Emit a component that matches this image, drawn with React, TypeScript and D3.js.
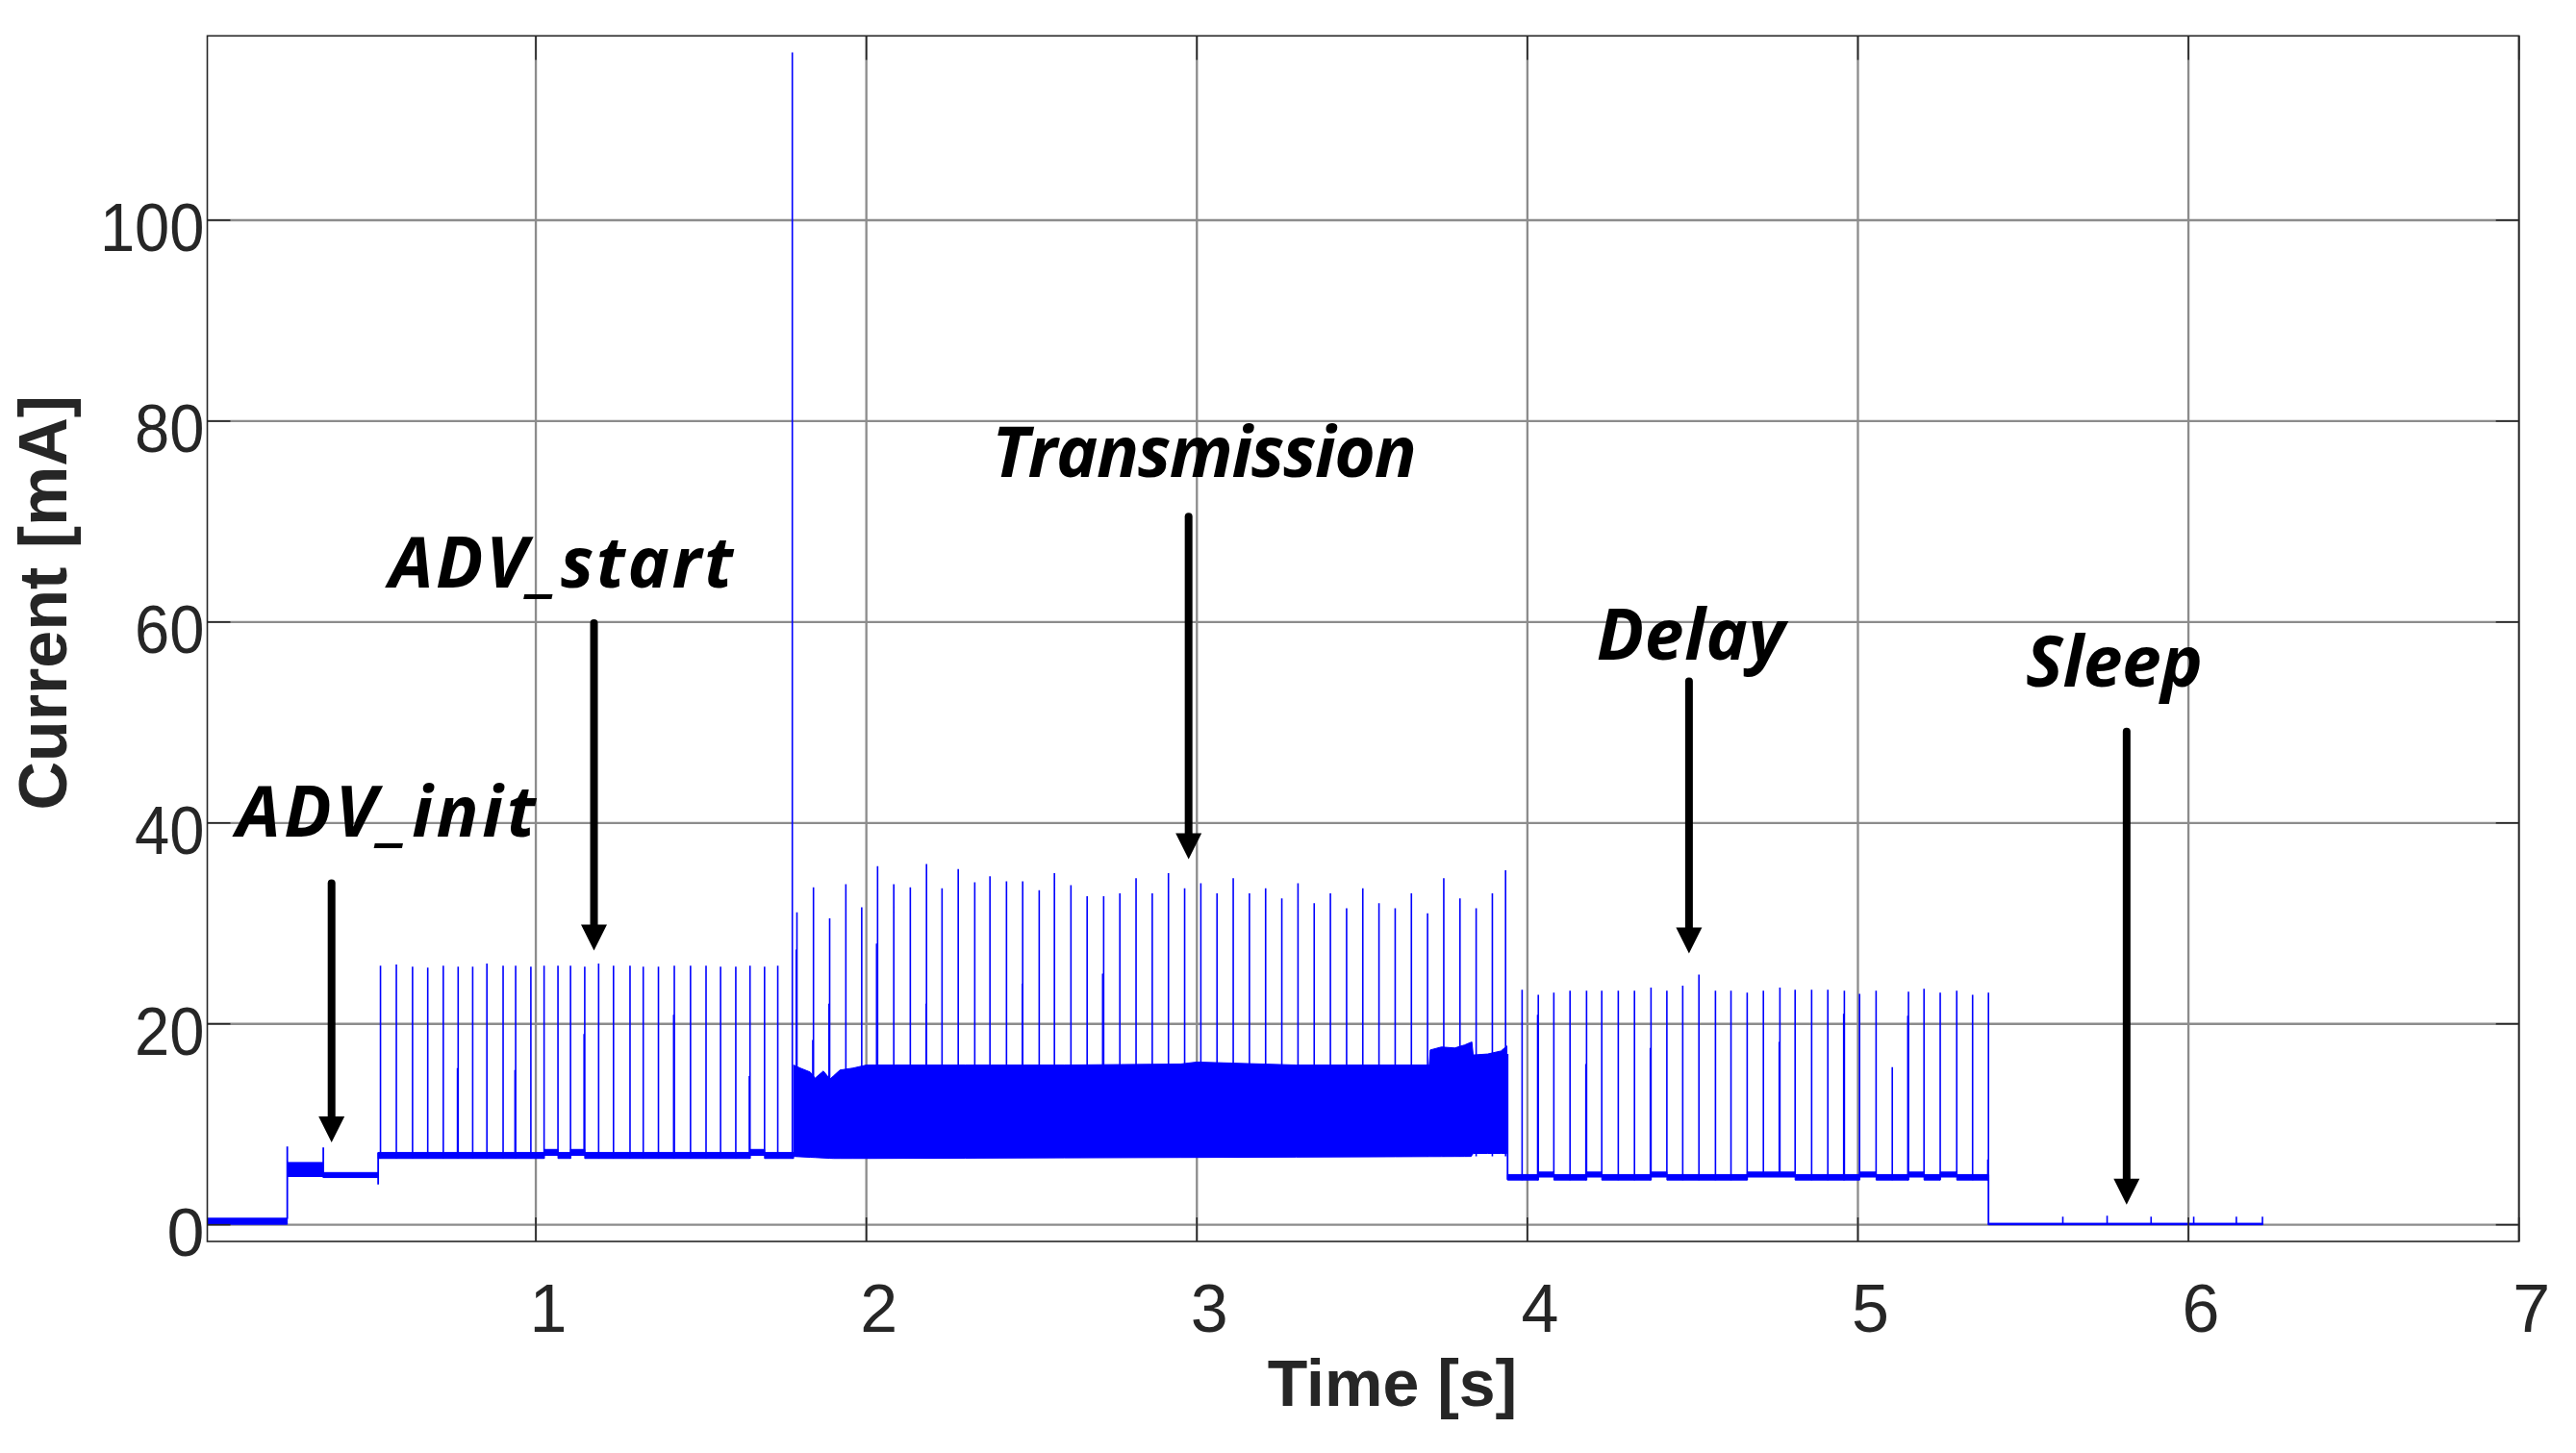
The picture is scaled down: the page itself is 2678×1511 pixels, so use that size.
import React from 'react';
import * as d3 from 'd3';

const W = 2678;
const H = 1511;

// axes
const X_DOMAIN: [number, number] = [0.006, 7];
const Y_DOMAIN: [number, number] = [-1.66, 118.35];
const xTicks = [1, 2, 3, 4, 5, 6, 7];
const yTicks = [0, 20, 40, 60, 80, 100];

// baseline noise levels per phase (seconds, mA)
const levelT0 = [0.006, 0.248, 0.357, 0.523, 1.025, 1.067, 1.105, 1.148, 1.648, 1.692, 3.940, 4.033, 4.080, 4.179, 4.225, 4.374, 4.422, 4.665, 4.810, 5.005, 5.055, 5.153, 5.200, 5.249, 5.299, 5.395];
const levelT1 = [0.248, 0.357, 0.523, 1.025, 1.067, 1.105, 1.148, 1.648, 1.692, 1.780, 4.033, 4.080, 4.179, 4.225, 4.374, 4.422, 4.665, 4.810, 5.005, 5.055, 5.153, 5.200, 5.249, 5.299, 5.395, 6.225];
const levelLo = [0.05, 4.8, 4.7, 6.6, 6.9, 6.6, 6.9, 6.6, 6.9, 6.6, 4.45, 4.75, 4.45, 4.75, 4.45, 4.75, 4.45, 4.75, 4.45, 4.75, 4.45, 4.75, 4.45, 4.75, 4.45, 0.0];
const levelHi = [0.65, 6.2, 5.2, 7.2, 7.5, 7.2, 7.5, 7.2, 7.5, 7.2, 5.0, 5.25, 5.0, 5.25, 5.0, 5.25, 5.0, 5.25, 5.0, 5.25, 5.0, 5.25, 5.0, 5.25, 5.0, 0.15];

// transmission envelope
const txTopT = [1.780, 1.800, 1.830, 1.845, 1.870, 1.890, 1.920, 1.960, 2.000, 2.300, 2.600, 2.950, 3.000, 3.300, 3.600, 3.703, 3.706, 3.740, 3.780, 3.810, 3.832, 3.836, 3.880, 3.920, 3.938];
const txTopV = [15.9, 15.6, 15.2, 14.6, 15.3, 14.5, 15.4, 15.6, 15.9, 15.9, 15.9, 16.0, 16.2, 15.9, 15.9, 15.9, 17.4, 17.7, 17.6, 17.9, 18.2, 16.9, 17.0, 17.3, 17.8];
const txBotT = [1.780, 1.900, 2.000, 3.000, 3.830, 3.836, 3.938];
const txBotV = [6.8, 6.6, 6.6, 6.7, 6.8, 7.1, 7.1];

// vertical transitions of the trace (time, from mA, to mA)
const transT = [0.248, 0.357, 0.523, 3.940, 5.395];
const transLo = [0.6, 4.7, 4.0, 4.5, 0.0];
const transHi = [7.8, 7.7, 7.2, 17.0, 5.0];

// spikes (time, peak mA)
const advSpikeT = [0.530, 0.578, 0.627, 0.673, 0.720, 0.765, 0.809, 0.852, 0.901, 0.939, 0.985, 1.025, 1.067, 1.105, 1.148, 1.190, 1.235, 1.285, 1.325, 1.371, 1.419, 1.468, 1.515, 1.559, 1.605, 1.648, 1.692, 1.732];
const advSpikeI = [25.8, 25.9, 25.7, 25.6, 25.8, 25.7, 25.7, 26.0, 25.8, 25.8, 25.7, 25.8, 25.8, 25.8, 25.7, 26.0, 25.8, 25.8, 25.7, 25.7, 25.8, 25.8, 25.8, 25.7, 25.7, 25.8, 25.7, 25.8];

const txSpikeT = [1.776, 1.790, 1.840, 1.889, 1.938, 1.986, 2.034, 2.083, 2.133, 2.182, 2.229, 2.278, 2.328, 2.374, 2.424, 2.473, 2.523, 2.569, 2.619, 2.668, 2.718, 2.767, 2.816, 2.865, 2.914, 2.963, 3.012, 3.061, 3.110, 3.159, 3.208, 3.257, 3.306, 3.355, 3.404, 3.453, 3.502, 3.551, 3.600, 3.649, 3.698, 3.747, 3.796, 3.845, 3.894, 3.934];
const txSpikeI = [116.7, 31.1, 33.6, 30.5, 33.9, 31.6, 35.7, 33.9, 33.6, 35.9, 33.5, 35.4, 34.1, 34.7, 34.2, 34.2, 33.3, 35.0, 33.8, 32.7, 32.7, 33.0, 34.5, 33.0, 35.0, 33.5, 34.0, 33.0, 34.5, 33.0, 33.5, 32.5, 34.0, 32.0, 33.0, 31.5, 33.5, 32.0, 31.5, 33.0, 31.0, 34.5, 32.5, 31.5, 33.0, 35.3];

const delaySpikeT = [3.984, 4.033, 4.080, 4.129, 4.179, 4.225, 4.275, 4.324, 4.374, 4.422, 4.470, 4.519, 4.569, 4.616, 4.665, 4.714, 4.764, 4.810, 4.860, 4.909, 4.959, 5.005, 5.055, 5.104, 5.153, 5.200, 5.249, 5.299, 5.347, 5.395];
const delaySpikeI = [23.4, 22.9, 23.1, 23.3, 23.3, 23.3, 23.3, 23.3, 23.6, 23.3, 23.8, 24.9, 23.3, 23.3, 23.1, 23.3, 23.6, 23.4, 23.4, 23.4, 23.3, 23.0, 23.3, 15.7, 23.2, 23.5, 23.1, 23.3, 22.9, 23.1];

// secondary (shorter) pulses
const minorT = [0.763, 0.937, 1.146, 1.417, 1.646, 1.788, 1.838, 1.887, 2.031, 2.181, 2.472, 2.715, 4.031, 4.177, 4.372, 4.762, 4.957, 5.151, 5.393];
const minorI = [15.6, 15.4, 19.0, 20.9, 14.8, 27.4, 18.4, 22.0, 28.0, 22.0, 24.0, 25.0, 20.9, 16.0, 17.6, 18.2, 21.0, 20.8, 6.5];

const sleepBlipT = [5.620, 5.754, 5.887, 6.016, 6.145, 6.224];
const sleepBlipI = [0.8, 0.9, 0.8, 0.8, 0.8, 0.8];

// annotations (time, mA)
const annoText = ['ADV_init', 'ADV_start', 'Transmission', 'Delay', 'Sleep'];
const annoTextT = [0.094, 0.556, 2.380, 4.209, 5.508];
const annoTextV = [38.6, 63.4, 74.4, 56.3, 53.6];
const annoWidthS = [0.905, 1.04, 1.285, 0.57, 0.535];
const arrowT = [0.382, 1.176, 2.975, 4.489, 5.813];
const arrowTopV = [34.0, 59.9, 70.5, 54.1, 49.1];
const arrowTipV = [8.2, 27.3, 36.4, 27.0, 2.0];

const M = { left: 215.5, right: 2618.7, top: 37.3, bottom: 1291 };

export default function App() {
  const x = d3.scaleLinear().domain(X_DOMAIN).range([M.left, M.right]);
  const y = d3.scaleLinear().domain(Y_DOMAIN).range([M.bottom, M.top]);

  const baseAt = (t: number) => {
    for (let i = 0; i < levelT0.length; i++) {
      if (t >= levelT0[i] - 1e-6 && t <= levelT1[i] + 1e-6) return levelLo[i];
    }
    if (t > 1.77 && t < 3.95) return 6.8;
    return 0;
  };

  const bandPath = levelT0
    .map((t0, i) => `M${x(t0)},${y(levelHi[i])}H${x(levelT1[i])}V${y(levelLo[i])}H${x(t0)}Z`)
    .join('');

  const interp = (ts: number[], vs: number[], t: number) => {
    const i = d3.bisectRight(ts, t);
    const a = Math.max(0, i - 1);
    const b = Math.min(ts.length - 1, i);
    if (ts[a] === ts[b]) return vs[a];
    return vs[a] + ((vs[b] - vs[a]) * (t - ts[a])) / (ts[b] - ts[a]);
  };
  const allT = Array.from(new Set([...txTopT, ...txBotT])).sort((a, b) => a - b);
  const area = d3
    .area<number>()
    .x((t) => x(t))
    .y0((t) => y(interp(txBotT, txBotV, t)))
    .y1((t) => y(interp(txTopT, txTopV, t)));
  const txArea = area(allT) || '';

  const transPath = transT.map((t, i) => `M${x(t)},${y(transLo[i])}V${y(transHi[i])}`).join('');

  const spikePath = (ts: number[], vs: number[]) =>
    ts.map((t, i) => `M${x(t)},${y(baseAt(t))}V${y(vs[i])}`).join('');

  const fontTick = "'Liberation Sans', Arial, Helvetica, sans-serif";
  const fontAnno = "'Open Sans', 'DejaVu Sans', sans-serif";
  const blue = '#0000ff';
  const gridColor = '#8c8c8c';
  const axisColor = '#262626';

  return (
    <div style={{ position: 'absolute', left: 0, top: 0 }}>
      <svg width={W} height={H} viewBox={`0 0 ${W} ${H}`} style={{ display: 'block', background: '#fff' }}>
        <rect x={0} y={0} width={W} height={H} fill="#fff" />
        {/* grid */}
        <g stroke={gridColor} strokeWidth={2.3}>
          {xTicks.map((t) => (
            <line key={'gx' + t} x1={x(t)} x2={x(t)} y1={M.top} y2={M.bottom} />
          ))}
          {yTicks.map((v) => (
            <line key={'gy' + v} x1={M.left} x2={M.right} y1={y(v)} y2={y(v)} />
          ))}
        </g>

        {/* signal */}
        <g>
          <path d={bandPath} fill={blue} stroke={blue} strokeWidth={1} />
          <path d={txArea} fill={blue} stroke={blue} strokeWidth={1} />
          <path d={transPath} fill="none" stroke={blue} strokeWidth={1.8} />
          <path d={spikePath(advSpikeT, advSpikeI)} stroke={blue} strokeWidth={1.6} fill="none" />
          <path d={spikePath(txSpikeT, txSpikeI)} stroke={blue} strokeWidth={1.6} fill="none" />
          <path d={spikePath(delaySpikeT, delaySpikeI)} stroke={blue} strokeWidth={1.6} fill="none" />
          <path d={spikePath(minorT, minorI)} stroke={blue} strokeWidth={1.6} fill="none" />
          <path d={spikePath(sleepBlipT, sleepBlipI)} stroke={blue} strokeWidth={1.6} fill="none" />
        </g>

        {/* axes box and ticks */}
        <rect x={M.left} y={M.top} width={M.right - M.left} height={M.bottom - M.top} fill="none" stroke={axisColor} strokeWidth={1.6} />
        <g stroke={axisColor} strokeWidth={1.6}>
          {xTicks.map((t) => (
            <g key={'tx' + t}>
              <line x1={x(t)} x2={x(t)} y1={M.bottom} y2={M.bottom - 25} />
              <line x1={x(t)} x2={x(t)} y1={M.top} y2={M.top + 25} />
            </g>
          ))}
          {yTicks.map((v) => (
            <g key={'ty' + v}>
              <line x1={M.left} x2={M.left + 24} y1={y(v)} y2={y(v)} />
              <line x1={M.right} x2={M.right - 24} y1={y(v)} y2={y(v)} />
            </g>
          ))}
        </g>

        {/* tick labels */}
        <g fill={axisColor} fontFamily={fontTick} fontSize={70}>
          {xTicks.map((t) => (
            <text key={'lx' + t} x={x(t) + 13} y={1385} textAnchor="middle">
              {String(t)}
            </text>
          ))}
          {yTicks.map((v) => {
            const s = String(v);
            return s.length > 1 ? (
              <text
                key={'ly' + v}
                x={M.left - 3 - s.length * 36.2}
                y={y(v) + 32.5}
                textLength={s.length * 36.2}
                lengthAdjust="spacingAndGlyphs"
              >
                {s}
              </text>
            ) : (
              <text key={'ly' + v} x={M.left - 3} y={y(v) + 32.5} textAnchor="end">
                {s}
              </text>
            );
          })}
        </g>

        {/* axis titles */}
        <text x={1447.5} y={1462} textAnchor="middle" fontFamily={fontTick} fontWeight="bold" fontSize={68} fill={axisColor}>
          Time [s]
        </text>
        <text
          transform={`translate(69,626.7) rotate(-90)`}
          textAnchor="middle"
          fontFamily={fontTick}
          fontWeight="bold"
          fontSize={70}
          fill={axisColor}
        >
          Current [mA]
        </text>

        {/* annotations */}
        <g fill="#000" fontFamily={fontAnno} fontWeight="bold" fontStyle="italic" fontSize={73}>
          {annoText.map((s, i) => (
            <text
              key={'at' + i}
              x={x(annoTextT[i])}
              y={y(annoTextV[i])}
              textLength={x(annoTextT[i] + annoWidthS[i]) - x(annoTextT[i])}
              lengthAdjust="spacing"
            >
              {s}
            </text>
          ))}
        </g>
        <g>
          {arrowT.map((t, i) => {
            const ax = x(t);
            const yTop = y(arrowTopV[i]);
            const yTip = y(arrowTipV[i]);
            const head = 27;
            return (
              <g key={'ar' + i}>
                <line x1={ax} x2={ax} y1={yTop} y2={yTip - head + 2} stroke="#000" strokeWidth={8} strokeLinecap="round" />
                <path d={`M${ax - 13.5},${yTip - head}L${ax + 13.5},${yTip - head}L${ax},${yTip}Z`} fill="#000" />
              </g>
            );
          })}
        </g>
      </svg>
    </div>
  );
}
